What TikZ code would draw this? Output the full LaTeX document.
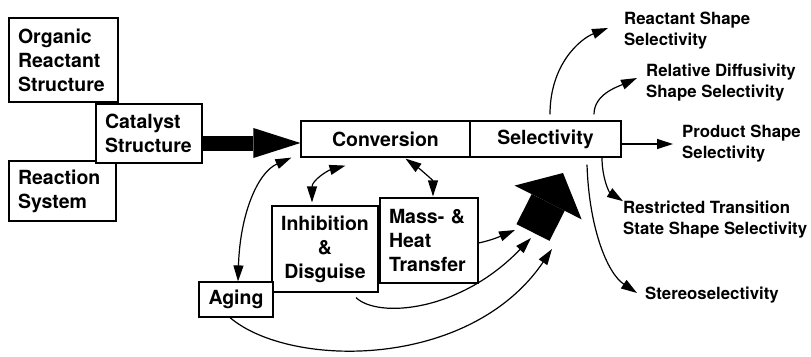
\documentclass[tikz,border=0pt]{standalone}
\usepackage{fontspec}
\setmainfont{TeX Gyre Heros}
\usetikzlibrary{arrows.meta}
\usetikzlibrary{calc}

\begin{document}
\begin{tikzpicture}[x=1pt, y=-1pt,
    box/.style = {draw, fill=white, line width=1.2pt, inner ysep=0pt, font=\bfseries\fontsize{19.5}{24}\selectfont},
    lbl/.style = {anchor=west, inner sep=0pt, align=left, font=\bfseries\fontsize{16.8}{21}\selectfont},
    link/.style = {line width=1.2pt, -{Triangle[length=16pt,width=10pt]}},
    dlink/.style = {line width=1.2pt, {Triangle[length=16pt,width=10pt]}-{Triangle[length=16pt,width=10pt]}}]
                \useasboundingbox (0,0) rectangle (811,356);
                \fill[white] (0,0) rectangle (811,356);
                \node[box, text width=91pt, inner xsep=9pt, align=left, minimum height=84pt] (org) at (63.5,60) {Organic\\Reactant\\Structure};
                \node[box, text width=89pt, inner xsep=9pt, align=left, minimum height=60pt] (rsys) at (62.5,191) {Reaction\\System};
                \node[box, text width=88pt, inner xsep=9pt, align=left, minimum height=59pt] (cat) at (149,133.5) {Catalyst\\Structure};
                \node[box, minimum width=169pt, minimum height=36pt] (conv) at (385.5,139) {Conversion};
                \node[box, minimum width=151pt, minimum height=36pt] (sel) at (545.5,139) {Selectivity};
                \node[box, align=center, minimum width=106pt, minimum height=86pt] (inh) at (325,249) {Inhibition\\\&\\Disguise};
                \node[box, text width=80pt, inner xsep=9pt, align=left, minimum height=85pt] (mass) at (429,240.5) {Mass- \&\\Heat\\Transfer};
                \node[box, minimum width=74pt, minimum height=35pt] (aging) at (236,299.5) {Aging};
                \node[lbl] (rss) at (624,31) {Reactant Shape\\Selectivity};
                \node[lbl] (rds) at (646,83) {Relative Diffusivity\\Shape Selectivity};
                \node[lbl] (pss) at (682,144) {Product Shape\\Selectivity};
                \node[lbl] (rts) at (623,220) {Restricted Transition\\State Shape Selectivity};
                \node[lbl] (ster) at (645,295) {Stereoselectivity};
                \coordinate (bigbase) at (533,232.5);
                \coordinate (bigtip) at (563,173);
                \coordinate (mtip) at (515,230);
                \coordinate (itip) at (531,238);
                \coordinate (atip) at (552,249);
                \draw[line width=15pt, -{Triangle[length=47pt,width=30pt,line width=0pt]}] ([yshift=-9.5pt]cat.east) -- ([yshift=-4pt]conv.west);
                \draw[line width=37pt, -{Triangle[length=33pt,width=75pt,line width=0pt]}] (bigbase) -- (bigtip);
                \draw[dlink] ([xshift=2pt]aging.north) .. controls +(2,-67) and +(-34,15) .. ([xshift=-9pt]conv.south west);
                \draw[dlink] ([xshift=-13pt,yshift=3pt]inh.north) .. controls +(0,-22) and +(-18,5) .. ([xshift=-40pt,yshift=-8pt]conv.south);
                \draw[dlink] ([xshift=4pt,yshift=1pt]mass.north) .. controls +(0,-16) and +(14,10) .. ([xshift=20pt,yshift=-1pt]conv.south);
                \draw[link] ([yshift=-2.5pt]mass.east) .. controls +(14,-3) and +(-14,6) .. (mtip);
                \draw[link] ([xshift=31pt,yshift=-5pt]inh.south) .. controls +(22,21) and +(-71,74) .. (itip);
                \draw[link] ([xshift=-6pt]aging.south) .. controls +(60,51) and +(-82,121) .. (atip);
                \draw[link] ([xshift=4.5pt,yshift=6pt]sel.north) .. controls +(0,-50) and +(-28,11) .. ([xshift=-16pt,yshift=3pt]rss.west);
                \draw[link] ([xshift=48.5pt,yshift=6pt]sel.north) .. controls +(0,-20) and +(-20,9) .. ([xshift=-9pt,yshift=5pt]rds.west);
                \draw[link] (sel.east |- pss.west) -- ([xshift=-9pt]pss.west);
                \draw[link] ([xshift=56.5pt]sel.south) .. controls +(0,20) and +(-14,-9) .. (rts.north west);
                \draw[link] ([xshift=41.5pt,yshift=-7pt]sel.south) .. controls +(2,63) and +(-30,-20) .. ([xshift=-8pt,yshift=2pt]ster.west);
            \end{tikzpicture}
\end{document}
